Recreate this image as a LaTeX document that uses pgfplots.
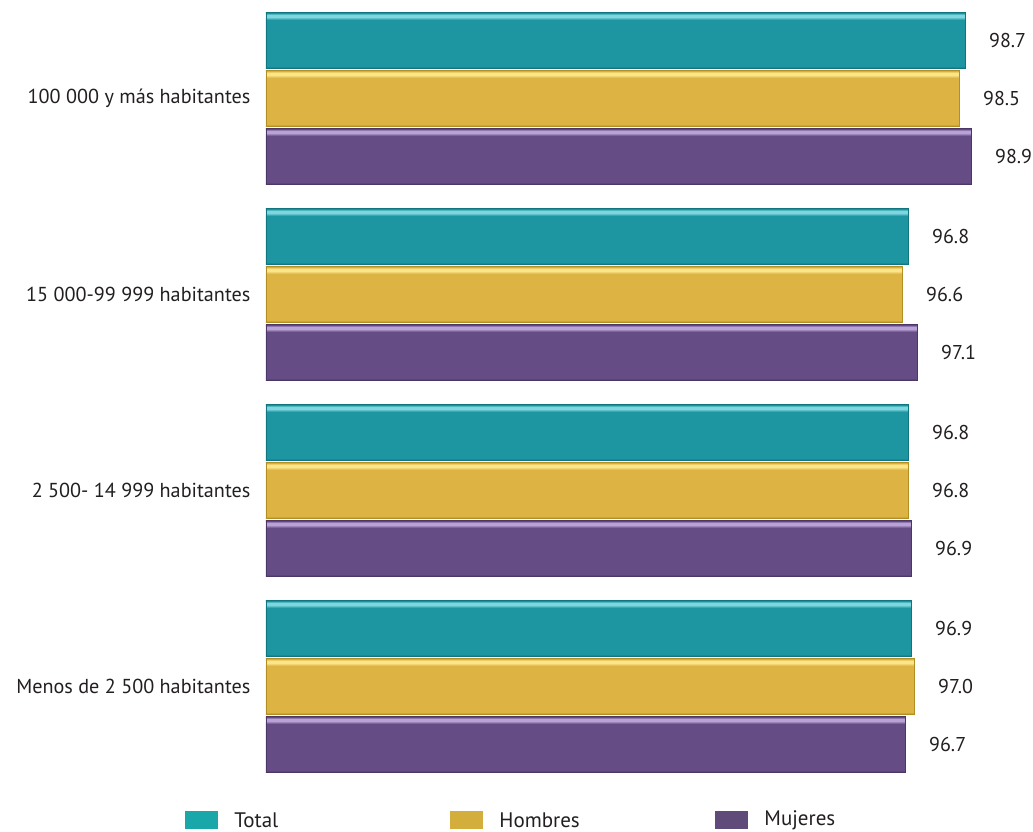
\documentclass[border=0pt]{standalone}
\usepackage{pgfplots}
\pgfplotsset{compat=1.18}
\usepackage{fontspec}
\setmainfont{PT Sans}
\definecolor{txt}{HTML}{231F20}
\definecolor{tealM}{HTML}{1E96A2}
\definecolor{tealL}{HTML}{7FD6DE}
\definecolor{tealD}{HTML}{11757F}
\definecolor{goldM}{HTML}{DDB443}
\definecolor{goldL}{HTML}{FBE58A}
\definecolor{goldD}{HTML}{B38E22}
\definecolor{purM}{HTML}{654C84}
\definecolor{purL}{HTML}{B9A2D6}
\definecolor{purD}{HTML}{4B3766}
\definecolor{legT}{HTML}{1AA7AA}
\definecolor{legG}{HTML}{D4AE3C}
\definecolor{legP}{HTML}{5F4A7A}
\pgfdeclareverticalshading{tealbar}{100bp}{color(0bp)=(tealD); color(25bp)=(tealD); color(26.5bp)=(tealM); color(68bp)=(tealM); color(70.5bp)=(tealL); color(72.5bp)=(tealL); color(74bp)=(tealM); color(75bp)=(tealD); color(100bp)=(tealD)}
\pgfdeclareverticalshading{goldbar}{100bp}{color(0bp)=(goldD); color(25bp)=(goldD); color(26.5bp)=(goldM); color(68bp)=(goldM); color(70.5bp)=(goldL); color(72.5bp)=(goldL); color(74bp)=(goldM); color(75bp)=(goldD); color(100bp)=(goldD)}
\pgfdeclareverticalshading{purbar}{100bp}{color(0bp)=(purD); color(25bp)=(purD); color(26.5bp)=(purM); color(68bp)=(purM); color(70.5bp)=(purL); color(72.5bp)=(purL); color(74bp)=(purM); color(75bp)=(purD); color(100bp)=(purD)}
\pgfplotsset{
  tb/.style={bar shift=-0.2959, draw=tealD, line width=0.4pt, shading=tealbar},
  gb/.style={bar shift=0, draw=goldD, line width=0.4pt, shading=goldbar},
  pb/.style={bar shift=0.2959, draw=purD, line width=0.4pt, shading=purbar},
}
\begin{document}
\begin{tikzpicture}
\path[use as bounding box] (0,0) rectangle (516.5pt,-415.5pt);
\begin{axis}[
  at={(133pt,-4.9pt)}, anchor=north west,
  scale only axis, width=369pt, height=382.2pt,
  xbar, xmin=75.37, xmax=100, ymin=-0.45, ymax=3.45,
  y dir=reverse,
  bar width=0.2857,
  axis line style={draw=none}, tick style={draw=none},
  xtick=\empty,
  ytick={0,1,2,3},
  yticklabels={100 000 y más habitantes,15 000-99 999 habitantes,2 500- 14 999 habitantes,Menos de 2 500 habitantes},
  yticklabel style={font=\fontsize{10.1pt}{12pt}\selectfont, text=txt},
  nodes near coords,
  nodes near coords style={font=\fontsize{10pt}{12pt}\selectfont, text=txt, anchor=west, xshift=8.5pt,
    /pgf/number format/.cd, fixed, fixed zerofill, precision=1, assume math mode=true},
  clip=false,
]
% 100 000 y más habitantes
\addplot[tb] coordinates {(98.7,0)};
\addplot[gb] coordinates {(98.5,0)};
\addplot[pb] coordinates {(98.9,0)};
% 15 000-99 999 habitantes
\addplot[tb] coordinates {(96.8,1)};
\addplot[gb] coordinates {(96.6,1)};
\addplot[pb] coordinates {(97.1,1)};
% 2 500- 14 999 habitantes
\addplot[tb] coordinates {(96.8,2)};
\addplot[gb] coordinates {(96.8,2)};
\addplot[pb] coordinates {(96.9,2)};
% Menos de 2 500 habitantes
\addplot[tb] coordinates {(96.9,3)};
\addplot[gb] coordinates {(97.0,3)};
\addplot[pb] coordinates {(96.7,3)};
\end{axis}
\fill[legT] (92.5pt,-405.5pt) rectangle (109pt,-414.5pt);
\node[anchor=west, inner sep=0pt, text=txt, font=\fontsize{10.5pt}{12pt}\selectfont] at (117pt,-410pt) {Total};
\fill[legG] (225pt,-405.5pt) rectangle (241.5pt,-414.5pt);
\node[anchor=west, inner sep=0pt, text=txt, font=\fontsize{10.5pt}{12pt}\selectfont] at (249.5pt,-410pt) {Hombres};
\fill[legP] (357.5pt,-405.5pt) rectangle (374pt,-414.5pt);
\node[anchor=west, inner sep=0pt, text=txt, font=\fontsize{10.5pt}{12pt}\selectfont] at (382pt,-410pt) {Mujeres};
\end{tikzpicture}
\end{document}
